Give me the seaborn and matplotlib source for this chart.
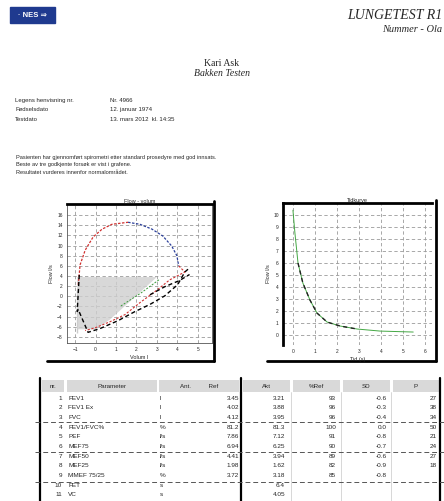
import numpy as np
import pandas as pd
import seaborn as sns
from matplotlib import pyplot as plt
from matplotlib.patches import Rectangle

# flow-volume loop (volume l, flow l/s)
exp_red_x = [-0.85, -0.76, -0.51, -0.12, 0.32, 0.80, 1.59]
exp_red_y = [2.27, 6.2, 9.1, 11.7, 13.25, 14.2, 14.6]
exp_blue_x = [1.59, 2.17, 2.76, 3.29, 3.73, 3.98, 4.07]
exp_blue_y = [14.6, 14.2, 13.25, 11.9, 9.9, 8.0, 6.0]
ret_red_x = [4.07, 4.37, 3.63, 2.90, 2.17, 1.44, 0.71, -0.02, -0.51]
ret_red_y = [6.0, 4.8, 3.25, 0.9, -1.25, -3.6, -5.0, -6.2, -6.75]
meas_x = [-0.8, -0.9, -0.85, -0.9, -0.37, 0.22, 1.10, 1.93, 2.66, 3.39, 4.02, 4.37, 4.6]
meas_y = [4.2, 1.3, -2.6, -7.3, -7.1, -6.35, -4.8, -3.0, -1.6, 0.1, 2.3, 4.8, 5.6]
meas2_x = [2.66, 3.39, 4.1, 4.6]
meas2_y = [0.3, 1.9, 3.1, 4.3]
green_x = [3.1, 2.2, 1.2]
green_y = [3.25, 0.6, -2.0]
shade_x = [-0.9, 3.0, 0.7, 0.0, -0.9]
shade_y = [3.8, 3.8, -4.6, -6.5, -6.5]

# time curve
time_x = [0, 0.09, 0.23, 0.45, 0.77, 1.09, 1.55, 2.14, 2.91, 3.95, 5.45]
time_y = [10.4, 8.5, 6.0, 4.33, 2.92, 1.83, 1.08, 0.75, 0.5, 0.33, 0.25]

# table
nr = [str(i) for i in range(1, 12)]
params = ["FEV1", "FEV1 Ex", "FVC", "FEV1/FVC%", "PEF", "MEF75", "MEF50",
          "MEF25", "MMEF 75/25", "FET", "VC"]
units = ["l", "l", "l", "%", "l/s", "l/s", "l/s", "l/s", "%", "s", "s"]
ref = ["3.45", "4.02", "4.12", "81.2", "7.86", "6.94", "4.41", "1.98", "3.72", "", ""]
akt = ["3.21", "3.88", "3.95", "81.3", "7.12", "6.25", "3.94", "1.62", "3.18", "6.4", "4.05"]
pct = ["93", "96", "96", "100", "91", "90", "89", "82", "85", "", ""]
sd = ["-0.6", "-0.3", "-0.4", "0.0", "-0.8", "-0.7", "-0.6", "-0.9", "-0.8", "", ""]
pval = ["27", "38", "34", "50", "21", "24", "27", "18", "", "", ""]

sns.set_theme(style="white")
plt.rcParams['font.family'] = ['Liberation Sans', 'DejaVu Sans']

W, H = 444, 501
fig = plt.figure(figsize=(W / 100, H / 100), dpi=100)

# page axes in pixel coords for text and table
page = fig.add_axes([0, 0, 1, 1], zorder=-1)
page.set_xlim(0, W)
page.set_ylim(H, 0)
page.axis('off')

serif = ['Liberation Serif', 'DejaVu Serif']

# header
page.add_patch(Rectangle((10, 7), 45, 16, color='#1f3a8f'))
page.text(32, 15.5, '· NES ⇒', color='white', fontsize=5.5, weight='bold',
          ha='center', va='center')
page.text(442, 15, 'LUNGETEST R1', family=serif, style='italic',
          fontsize=10, ha='right', va='center')
page.text(442, 29, 'Nummer - Ola', family=serif, style='italic',
          fontsize=7.5, ha='right', va='center')
page.text(222, 63, 'Kari Ask', family=serif, fontsize=7, ha='center', va='center')
page.text(222, 73, 'Bakken Testen', family=serif, style='italic', fontsize=7,
          ha='center', va='center')

info = [("Legens henvisning nr.", "Nr. 4966"),
        ("Fødselsdato", "12. januar 1974"),
        ("Testdato", "13. mars 2012  kl. 14:35")]
for i, (a, b) in enumerate(info):
    page.text(15, 100 + i * 9.5, a, fontsize=4.3, va='center')
    page.text(110, 100 + i * 9.5, b, fontsize=4.3, va='center')

para = ["Pasienten har gjennomført spirometri etter standard prosedyre med god innsats.",
        "Beste av tre godkjente forsøk er vist i grafene.",
        "Resultatet vurderes innenfor normalområdet."]
for i, s in enumerate(para):
    page.text(16, 157 + i * 7.8, s, fontsize=4.1, va='center')


def px_axes(x0, y0, x1, y1):
    return fig.add_axes([x0 / W, 1 - y1 / H, (x1 - x0) / W, (y1 - y0) / H])


def style_axes(ax, thick_left):
    ax.set_facecolor('white')
    for side, sp in ax.spines.items():
        sp.set_color('#555555')
        sp.set_linewidth(0.6)
    ax.spines['top'].set_color('black')
    ax.spines['top'].set_linewidth(2.0)
    if thick_left:
        ax.spines['left'].set_color('black')
        ax.spines['left'].set_linewidth(2.0)
    ax.grid(True, ls=(0, (4, 3)), color='#9a9a9a', lw=0.6)
    ax.tick_params(labelsize=3.5, length=0, pad=3)


# flow-volume plot
ax1 = px_axes(67, 204, 212, 343)
sns.lineplot(x=exp_red_x, y=exp_red_y, ax=ax1, color='#d0302f', lw=0.9,
             ls=(0, (2, 1.2)), sort=False)
sns.lineplot(x=exp_blue_x, y=exp_blue_y, ax=ax1, color='#2b3f9a', lw=0.9,
             ls=(0, (2, 1.2)), sort=False)
sns.lineplot(x=ret_red_x, y=ret_red_y, ax=ax1, color='#d0302f', lw=0.8,
             ls=(0, (2, 1.5)), sort=False)
sns.lineplot(x=meas_x, y=meas_y, ax=ax1, color='black', lw=1.0,
             ls=(0, (3, 2)), sort=False)
sns.lineplot(x=meas2_x, y=meas2_y, ax=ax1, color='black', lw=1.0,
             ls=(0, (3, 2)), sort=False)
sns.lineplot(x=green_x, y=green_y, ax=ax1, color='#3a9a3a', lw=0.7,
             ls=(0, (2, 1.5)), sort=False)
ax1.fill(shade_x, shade_y, color='#cfcfcf', alpha=0.8, lw=0)
ax1.set_xlim(-1.4, 5.7)
ax1.set_ylim(-9.2, 18.2)
ax1.set_xticks(range(-1, 6))
ax1.set_yticks(range(-8, 17, 2))
style_axes(ax1, False)
ax1.set_title('Flow - volum', fontsize=4, pad=1)
ax1.set_xlabel('Volum l', fontsize=4, labelpad=2)
ax1.set_ylabel('Flow l/s', fontsize=4, labelpad=2)

# time plot
ax2 = px_axes(283, 203, 432, 345)
sns.lineplot(x=time_x, y=time_y, ax=ax2, color='#44a844', lw=0.7, sort=False)
sns.lineplot(x=time_x[2:9], y=time_y[2:9], ax=ax2, color='#222222', lw=1.0,
             ls=(0, (3, 2.5)), sort=False)
ax2.set_xlim(-0.45, 6.3)
ax2.set_ylim(-0.83, 11)
ax2.set_xticks(range(0, 7))
ax2.set_yticks(range(0, 11))
style_axes(ax2, True)
ax2.spines['right'].set_visible(False)
ax2.spines['bottom'].set_visible(False)
ax2.set_title('Tidkurve', fontsize=4, pad=1)
ax2.set_xlabel('Tid (s)', fontsize=4, labelpad=2)
ax2.set_ylabel('Flow l/s', fontsize=4, labelpad=2)

# panel shadow frames
page.plot([214, 214], [201, 361], color='black', lw=2)
page.plot([47, 214], [361, 361], color='black', lw=2)
page.plot([436, 436], [200, 361], color='black', lw=2)
page.plot([267, 436], [361, 361], color='black', lw=2)

# table
hdr = [(42, 22, 'nr.'), (67, 90, 'Parameter'), (159, 80, 'Ant.          Ref'),
       (243, 47, 'Akt'), (293, 47, '%Ref'), (343, 47, 'SD'), (393, 46, 'P')]
for x0, w, lab in hdr:
    page.add_patch(Rectangle((x0, 380), w, 12, color='#d9d9d9', lw=0))
    page.text(x0 + w / 2, 386, lab, fontsize=4.5, ha='center', va='center')

for x in [40, 241, 440]:
    page.plot([x, x], [378, 501], color='black', lw=1.6)
for x in [291, 341, 391]:
    page.plot([x, x], [392, 501], color='#c8c8c8', lw=0.5)
for y in [422, 452, 482]:
    page.plot([35, 444], [y, y], color='#555555', lw=0.7, ls=(0, (5, 3)))

for i in range(len(params)):
    y = 398 + i * 9.7
    page.text(62, y, nr[i], fontsize=4.6, ha='right', va='center')
    page.text(68, y, params[i], fontsize=4.6, ha='left', va='center')
    page.text(160, y, units[i], fontsize=4.6, ha='left', va='center')
    page.text(239, y, ref[i], fontsize=4.6, ha='right', va='center')
    page.text(285, y, akt[i], fontsize=4.6, ha='right', va='center')
    page.text(336, y, pct[i], fontsize=4.6, ha='right', va='center')
    page.text(387, y, sd[i], fontsize=4.6, ha='right', va='center')
    page.text(437, y, pval[i], fontsize=4.6, ha='right', va='center')

fig.savefig('out.png', dpi=100)
